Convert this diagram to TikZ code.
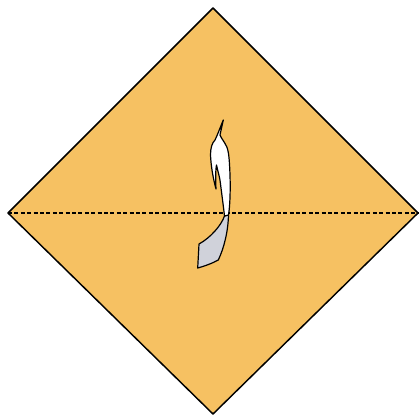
\documentclass[tikz,border=0pt]{standalone}
\usetikzlibrary{calc}

\definecolor{paper}{RGB}{246,193,98}
\definecolor{backside}{RGB}{208,210,218}

\begin{document}
\begin{tikzpicture}[
    x=0.75pt, y=-0.75pt,
    line join=round,
    edge/.style={line width=1.1pt},
    fold/.style={line width=0.8pt, dash pattern=on 3pt off 1.8pt},
    arrowline/.style={line width=0.9pt},
  ]

  \useasboundingbox (0,0) rectangle (420,416);

  % ---- square sheet, turned on its corner -----------------------------
  \coordinate (T) at (213,8);     % top corner
  \coordinate (B) at (213,414);   % bottom corner
  \coordinate (L) at (8,213);     % left corner
  \coordinate (R) at (418,213);   % right corner

  \draw[edge, fill=paper] (T) -- (R) -- (B) -- (L) -- cycle;

  % ---- valley fold along the diagonal --------------------------------
  \draw[fold] (L) -- (R);

  % ---- fold-up arrow -------------------------------------------------
  \coordinate (tip) at (223.3,120);
  \coordinate (barb) at (216,189);  % lower point of the head
  \coordinate (notch) at (216.5,165);
  \coordinate (Xl) at (224.5,216);  % strip edges at the fold
  \coordinate (Xr) at (228.5,215);
  \coordinate (tail) at (199,244);

  % under side (grey)
  \draw[arrowline, fill=backside] (Xl)
    .. controls (221,226) and (210,238) .. (tail)
    -- (197.7,268)
    .. controls (205,266) and (213,263) .. (218.3,260)
    .. controls (224,248) and (228,232) .. (Xr) -- cycle;

  % upper side with head (white)
  \draw[arrowline, fill=white] (tip)
    .. controls (220,128) and (217,136) .. (215,140)
    .. controls (212,143) and (210.5,148) .. (210.5,155)
    .. controls (211,166) and (213,178) .. (barb)
    .. controls (215.5,180) and (215.5,170) .. (notch)
    .. controls (218,172) and (220,178) .. (220.5,184)
    .. controls (222,196) and (223.5,207) .. (Xl)
    -- (Xr)
    .. controls (230,206) and (230.5,190) .. (230,175)
    .. controls (229.5,162) and (229,152) .. (226.7,146.7)
    .. controls (224,141) and (221,138) .. (220,135)
    -- cycle;

\end{tikzpicture}
\end{document}
